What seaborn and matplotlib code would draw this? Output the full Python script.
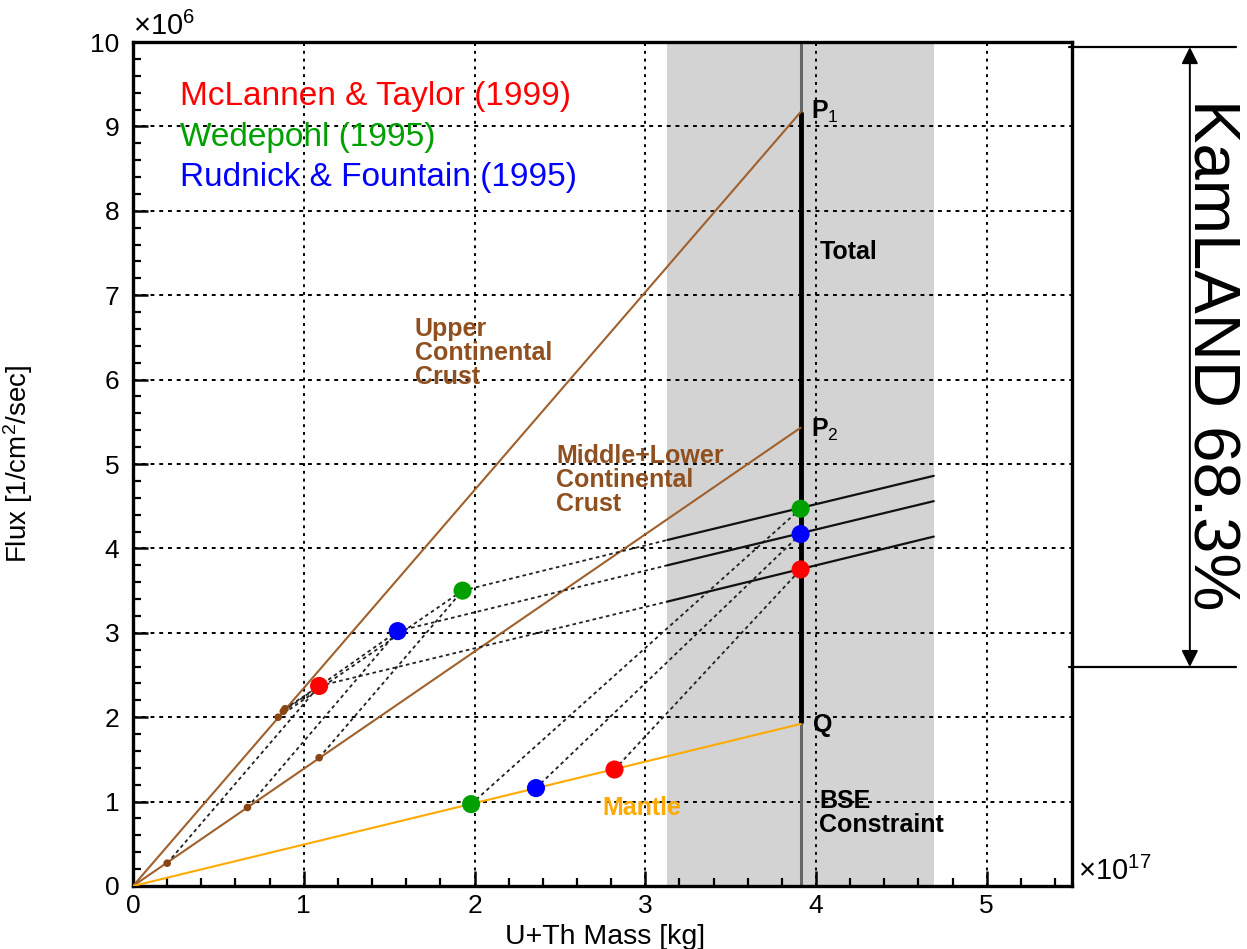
import numpy as np
import pandas as pd
import matplotlib
matplotlib.use("Agg")
import matplotlib.pyplot as plt
from matplotlib.ticker import MultipleLocator
import seaborn as sns

# ---------------- data ----------------
models = ["McLannen & Taylor (1999)", "Wedepohl (1995)", "Rudnick & Fountain (1995)"]
model_colors = ["#ff0000", "#00a000", "#0000ff"]

# end points of the three reservoir lines (x in 1e17 kg, y in 1e6 /cm2/s)
comp_names = ["Upper Continental Crust", "Middle+Lower Continental Crust", "Mantle"]
comp_end_x = [3.91, 3.91, 3.91]
comp_end_y = [9.17, 5.43, 1.92]
comp_colors = ["#a0602c", "#a0602c", "#ffaa00"]

# small brown dots on the crust lines
upper_x = [0.89, 0.85, 0.88]
upper_y = [2.10, 2.00, 2.07]
midlow_x = [0.20, 1.09, 0.67]
midlow_y = [0.27, 1.52, 0.93]
# crust totals
crust_x = [1.09, 1.93, 1.55]
crust_y = [2.37, 3.50, 3.02]
# mantle contributions
mantle_x = [2.82, 1.98, 2.36]
mantle_y = [1.38, 0.97, 1.16]
# totals (crust + mantle) on the BSE constraint
total_x = [3.91, 3.91, 3.91]
total_y = [3.75, 4.47, 4.17]
# crust + mantle lines: value at band start and at band end
band_lo, band_hi = 3.13, 4.69
mix_lo_y = [3.37, 4.10, 3.80]
mix_hi_y = [4.14, 4.86, 4.56]

bse_x = 3.91
total_bar = [1.93, 9.17]  # Q .. P1

kam_top, kam_bot = 9.94, 2.595

xticks = [0, 1, 2, 3, 4, 5]
yticks = [0, 1, 2, 3, 4, 5, 6, 7, 8, 9, 10]

# ---------------- style ----------------
sns.set_theme(style="white")
plt.rcParams["font.family"] = ["Liberation Sans", "DejaVu Sans"]
plt.rcParams["mathtext.fontset"] = "custom"
plt.rcParams["mathtext.rm"] = "Liberation Sans"
plt.rcParams["mathtext.it"] = "Liberation Sans:italic"
plt.rcParams["mathtext.bf"] = "Liberation Sans:bold"
plt.rcParams["text.color"] = "black"
plt.rcParams["axes.labelcolor"] = "black"
plt.rcParams["xtick.color"] = "black"
plt.rcParams["ytick.color"] = "black"

fig = plt.figure(figsize=(12.47, 9.49), dpi=100)
ax = fig.add_axes([0.1067, 0.0664, 0.7530, 0.8893])
ax.set_xlim(0, 5.5)
ax.set_ylim(0, 10)

# band + grid
ax.axvspan(band_lo, band_hi, color="#d3d3d3", zorder=0, lw=0)
for xv in xticks[1:]:
    ax.axvline(xv, color="black", lw=1.4, ls=(0, (1.5, 2.5)), zorder=1)
for yv in yticks[1:-1]:
    ax.axhline(yv, color="black", lw=1.4, ls=(0, (2, 2.5)), zorder=1)

# BSE constraint line and total bar
ax.axvline(bse_x, color="#666666", lw=2.2, zorder=2)
ax.plot([bse_x, bse_x], total_bar, color="black", lw=3.5, zorder=3, solid_capstyle="butt")

# reservoir lines from origin
comp_df = pd.DataFrame({
    "x": [0.0] * 3 + comp_end_x,
    "y": [0.0] * 3 + comp_end_y,
    "comp": comp_names * 2,
})
sns.lineplot(data=comp_df, x="x", y="y", hue="comp", palette=dict(zip(comp_names, comp_colors)),
             estimator=None, sort=False, lw=1.5, legend=False, ax=ax, zorder=4)

# dashed construction segments
segs = []
sid = 0
for i in range(3):
    for (x0, y0, x1, y1) in [
        (upper_x[i], upper_y[i], crust_x[i], crust_y[i]),
        (midlow_x[i], midlow_y[i], crust_x[i], crust_y[i]),
        (crust_x[i], crust_y[i], band_lo, mix_lo_y[i]),
        (mantle_x[i], mantle_y[i], total_x[i], total_y[i]),
    ]:
        segs.append({"seg": sid, "x": x0, "y": y0})
        segs.append({"seg": sid, "x": x1, "y": y1})
        sid += 1
seg_df = pd.DataFrame(segs)
sns.lineplot(data=seg_df, x="x", y="y", units="seg", estimator=None, sort=False,
             color="#222222", lw=1.3, ls=(0, (2, 1.8)), legend=False, ax=ax, zorder=5)

# solid crust+mantle extension lines in the band
ext = []
for i in range(3):
    ext.append({"seg": i, "x": band_lo, "y": mix_lo_y[i]})
    ext.append({"seg": i, "x": band_hi, "y": mix_hi_y[i]})
sns.lineplot(data=pd.DataFrame(ext), x="x", y="y", units="seg", estimator=None, sort=False,
             color="#111111", lw=1.6, legend=False, ax=ax, zorder=5)

# small brown dots
dots = pd.DataFrame({"x": upper_x + midlow_x, "y": upper_y + midlow_y})
sns.scatterplot(data=dots, x="x", y="y", color="#8b4513", s=30, edgecolor="none",
                legend=False, ax=ax, zorder=6)

# coloured model points
pts = pd.DataFrame({
    "x": crust_x + mantle_x + total_x,
    "y": crust_y + mantle_y + total_y,
    "model": models * 3,
})
sns.scatterplot(data=pts, x="x", y="y", hue="model", palette=dict(zip(models, model_colors)),
                s=170, edgecolor="none", legend=False, ax=ax, zorder=7)

# ---------------- axes styling ----------------
for sp in ax.spines.values():
    sp.set_linewidth(2.4)
    sp.set_color("black")
ax.set_xticks(xticks)
ax.set_yticks(yticks)
ax.set_xticklabels([str(v) for v in xticks])
ax.set_yticklabels([str(v) for v in yticks])
ax.xaxis.set_minor_locator(MultipleLocator(0.2))
ax.yaxis.set_minor_locator(MultipleLocator(0.2))
ax.tick_params(which="both", direction="in", top=False, right=False, bottom=True, left=True,
               colors="black", labelcolor="black")
ax.tick_params(which="major", length=11, width=1.8, labelsize=19)
ax.tick_params(axis="y", which="major", pad=10)
ax.tick_params(axis="x", which="major", pad=6)
ax.tick_params(which="minor", length=6, width=1.6)
ax.grid(False)

ax.set_xlabel("U+Th Mass [kg]", fontsize=20.5, color="black")
ax.set_ylabel("Flux [1/cm$^{2}$/sec]", fontsize=20, color="black")
ax.xaxis.set_label_coords(0.503, -0.045)
ax.yaxis.set_label_coords(-0.104, 0.5)

ax.text(0.0, 1.001, "×10$^{6}$", transform=ax.transAxes, ha="left", va="bottom", fontsize=21)
ax.text(1.006, 0.0, "×10$^{17}$", transform=ax.transAxes, ha="left", va="bottom", fontsize=21)

# legend text
for name, col, yy in zip(models, model_colors, [9.35, 8.87, 8.40]):
    ax.text(0.275, yy, name, color=col, fontsize=24, ha="left", va="center")

brown = "#8f4f1f"
ax.text(1.65, 6.315, "Upper\nContinental\nCrust", color=brown, fontsize=18, fontweight="bold",
        ha="left", va="center", linespacing=0.98)
ax.text(2.48, 4.81, "Middle+Lower\nContinental\nCrust", color=brown, fontsize=18, fontweight="bold",
        ha="left", va="center", linespacing=0.98)
ax.text(2.75, 0.92, "Mantle", color="#ffaa00", fontsize=18, fontweight="bold", ha="left", va="center")
ax.text(4.02, 7.51, "Total", color="black", fontsize=18, fontweight="bold", ha="left", va="center")
ax.text(4.02, 0.865, "BSE\nConstraint", color="black", fontsize=18, fontweight="bold",
        ha="left", va="center", linespacing=0.98)
ax.text(3.97, 9.17, r"$\mathbf{P}_{1}$", color="black", fontsize=18, ha="left", va="center")
ax.text(3.97, 5.40, r"$\mathbf{P}_{2}$", color="black", fontsize=18, ha="left", va="center")
ax.text(3.98, 1.91, "Q", color="black", fontsize=18, fontweight="bold", ha="left", va="center")

# KamLAND range annotation (outside the frame)
for yy in [kam_top, kam_bot]:
    ax.plot([5.48, 6.46], [yy, yy], color="black", lw=1.6, clip_on=False, zorder=8)
ax.annotate("", xy=(6.19, kam_top), xytext=(6.19, kam_bot),
            arrowprops=dict(arrowstyle="<|-|>", color="black", lw=1.4, mutation_scale=25,
                            shrinkA=0, shrinkB=0),
            annotation_clip=False)
ax.text(6.31, 6.3, "KamLAND 68.3%", rotation=-90, fontsize=47, ha="center", va="center",
        color="black", clip_on=False)

fig.savefig("out.png", dpi=100)
